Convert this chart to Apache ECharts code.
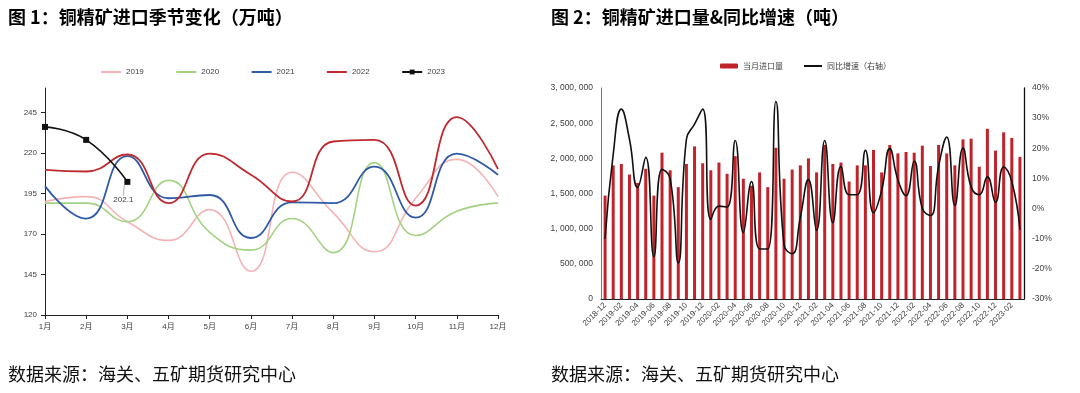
<!DOCTYPE html>
<html><head><meta charset="utf-8">
<script src="https://cdn.jsdelivr.net/npm/echarts@6/dist/echarts.min.js"></script>
<style>html,body{margin:0;padding:0;background:#fff}#c{width:1080px;height:393px}</style>
</head><body><div id="c"></div>
<script>
// ---- Chart 1 data (万吨) ----
const months = ['1月','2月','3月','4月','5月','6月','7月','8月','9月','10月','11月','12月'];
const y2019 = [190, 193, 177.5, 166, 185, 147, 208, 183, 159, 192, 216, 193];
const y2020 = [189, 189, 177.5, 203, 171, 160, 179.5, 158.5, 214, 169, 184, 189];
const y2021 = [199.5, 179.5, 218, 192, 194, 167.5, 189.5, 189, 211.5, 180, 219.5, 206.5];
const y2022 = [209.5, 208.5, 219, 189, 219.5, 206.5, 190, 227, 228, 187.5, 242, 210];
const y2023 = [236, 228, 202.1];
const leftTicks = [120, 145, 170, 195, 220, 245];

// ---- Chart 2 data ----
const dates = ['2018-12','2019-01','2019-02','2019-03','2019-04','2019-05','2019-06','2019-07','2019-08','2019-09','2019-10','2019-11','2019-12',
 '2020-01','2020-02','2020-03','2020-04','2020-05','2020-06','2020-07','2020-08','2020-09','2020-10','2020-11','2020-12',
 '2021-01','2021-02','2021-03','2021-04','2021-05','2021-06','2021-07','2021-08','2021-09','2021-10','2021-11','2021-12',
 '2022-01','2022-02','2022-03','2022-04','2022-05','2022-06','2022-07','2022-08','2022-09','2022-10','2022-11','2022-12',
 '2023-01','2023-02','2023-03'];
const imports = [1470000, 1900000, 1920000, 1770000, 1650000, 1850000, 1470000, 2080000, 1830000, 1590000, 1920000, 2170000, 1930000,
 1830000, 1940000, 1780000, 2030000, 1710000, 1610000, 1800000, 1590000, 2150000, 1710000, 1840000, 1900000,
 2000000, 1800000, 2190000, 1920000, 1940000, 1670000, 1900000, 1900000, 2120000, 1800000, 2190000, 2070000,
 2090000, 2080000, 2180000, 1890000, 2190000, 2070000, 1900000, 2270000, 2280000, 1880000, 2420000, 2110000,
 2370000, 2290000, 2021000];
const yoy = [-10, 18, 33, 23, 7, 17, -16, 13, 10, -18, 23, 28, 33,
 -3.6, 0.8, 0.5, 22.6, -8, 9, -13.4, -13.4, 35.5, -12, -15, -3,
 9.6, -7.2, 22.6, -4.7, 14, 4.6, 4.6, 19.3, -1.4, 6, 19.9, 9.5,
 4.3, 15.7, 0, -2.3, 14, 23.7, 1, 20.1, 7.2, 4.6, 10.5, 2.1,
 13.8, 9, -7];

const CJK = "'Noto Sans CJK SC', sans-serif";
const LAT = "'Liberation Sans', Arial, 'Noto Sans CJK SC', sans-serif";
const txt = '#404040';

const chart = echarts.init(document.getElementById('c'));
const lastLabel = y2023.map((v, i) => i === y2023.length - 1
  ? {value: v, label: {show: true, position: 'bottom', formatter: '{c}', fontSize: 8, color: txt, fontFamily: LAT}}
  : v);
const noSym = name => ({name: name, itemStyle: {opacity: 0}});

chart.setOption({
  animation: false,
  textStyle: {fontFamily: LAT},
  title: [
    {text: '图 1：铜精矿进口季节变化（万吨）', left: 8, top: 8, padding: 0, textStyle: {fontSize: 18, fontWeight: 'bold', color: '#000', fontFamily: CJK}},
    {text: '图 2：铜精矿进口量&同比增速（吨）', left: 551, top: 8, padding: 0, textStyle: {fontSize: 18, fontWeight: 'bold', color: '#000', fontFamily: CJK}},
    {text: '数据来源：海关、五矿期货研究中心', left: 8, top: 365, padding: 0, textStyle: {fontSize: 18, fontWeight: 'normal', color: '#111', fontFamily: CJK}},
    {text: '数据来源：海关、五矿期货研究中心', left: 551, top: 365, padding: 0, textStyle: {fontSize: 18, fontWeight: 'normal', color: '#111', fontFamily: CJK}}
  ],
  legend: [
    {data: [noSym('2019'), noSym('2020'), noSym('2021'), noSym('2022'), '2023'], left: 95, top: 63, itemWidth: 20, itemHeight: 6, itemGap: 31.5,
     textStyle: {fontSize: 8, color: txt, fontFamily: LAT}},
    {data: ['当月进口量', noSym('同比增速（右轴）')], left: 715, top: 57, itemWidth: 18, itemHeight: 5, itemGap: 20,
     textStyle: {fontSize: 8, color: txt, fontFamily: CJK}}
  ],
  grid: [
    {left: 45, right: 582, top: 88, bottom: 78},
    {left: 601, right: 56, top: 88, bottom: 94}
  ],
  xAxis: [
    {type: 'category', gridIndex: 0, data: months, boundaryGap: false,
     axisLine: {lineStyle: {color: '#222'}}, axisTick: {length: 4, lineStyle: {color: '#222'}},
     axisLabel: {fontSize: 8, color: txt, margin: 8}},
    {type: 'category', gridIndex: 1, data: dates, boundaryGap: true,
     axisLine: {lineStyle: {color: '#222'}}, axisTick: {alignWithLabel: true, interval: 1, length: 4, lineStyle: {color: '#222'}},
     axisLabel: {interval: 1, rotate: 45, fontSize: 8, color: txt, margin: 5}}
  ],
  yAxis: [
    {type: 'value', gridIndex: 0, min: 120, max: 260,
     axisLine: {show: true, lineStyle: {color: '#222'}},
     axisTick: {show: true, length: 4, customValues: leftTicks, lineStyle: {color: '#222'}},
     axisLabel: {customValues: leftTicks, fontSize: 8, color: txt, margin: 8},
     splitLine: {show: false}},
    {type: 'value', gridIndex: 1, min: 0, max: 3000000, interval: 500000,
     axisLine: {show: true, lineStyle: {color: '#777'}}, axisTick: {show: false},
     axisLabel: {fontSize: 8.5, color: txt, margin: 8, formatter: v => v.toLocaleString('en-US').replace(/,/g, ', ')},
     splitLine: {show: false}},
    {type: 'value', gridIndex: 1, position: 'right', min: -30, max: 40, interval: 10,
     axisLine: {show: true, lineStyle: {color: '#111', width: 1.3}}, axisTick: {show: false},
     axisLabel: {fontSize: 8.5, color: txt, margin: 8, formatter: '{value}%'},
     splitLine: {show: false}}
  ],
  series: [
    {name: '2019', type: 'line', xAxisIndex: 0, yAxisIndex: 0, data: y2019, smooth: 0.5, symbol: 'none',
     lineStyle: {color: '#F5B3B5', width: 1.6}, itemStyle: {color: '#F5B3B5'}},
    {name: '2020', type: 'line', xAxisIndex: 0, yAxisIndex: 0, data: y2020, smooth: 0.5, symbol: 'none',
     lineStyle: {color: '#A3D282', width: 1.6}, itemStyle: {color: '#A3D282'}},
    {name: '2021', type: 'line', xAxisIndex: 0, yAxisIndex: 0, data: y2021, smooth: 0.5, symbol: 'none',
     lineStyle: {color: '#2F5AA6', width: 1.8}, itemStyle: {color: '#2F5AA6'}},
    {name: '2022', type: 'line', xAxisIndex: 0, yAxisIndex: 0, data: y2022, smooth: 0.5, symbol: 'none',
     lineStyle: {color: '#BF2A30', width: 1.8}, itemStyle: {color: '#BF2A30'}},
    {name: '2023', type: 'line', xAxisIndex: 0, yAxisIndex: 0, data: lastLabel, smooth: 0.5, symbol: 'rect', symbolSize: 6,
     lineStyle: {color: '#111', width: 1.6}, itemStyle: {color: '#111'},
     labelLayout: {dx: -4, dy: 6}, labelLine: {show: true, lineStyle: {color: '#999', width: 0.8}}},
    {name: '当月进口量', type: 'bar', xAxisIndex: 1, yAxisIndex: 1, data: imports, barWidth: 3,
     itemStyle: {color: '#C1232B'}},
    {name: '同比增速（右轴）', type: 'line', xAxisIndex: 1, yAxisIndex: 2, data: yoy, smooth: 0.5, symbol: 'none',
     lineStyle: {color: '#111', width: 1.6}, itemStyle: {color: '#111'}, z: 5}
  ]
});
</script></body></html>
